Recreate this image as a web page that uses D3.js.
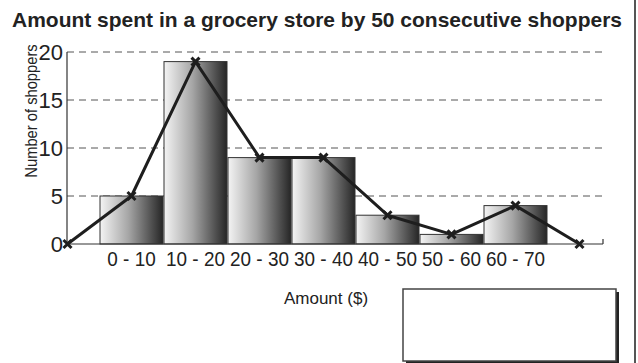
<!DOCTYPE html>
<html>
<head>
<meta charset="utf-8">
<script src="https://cdn.jsdelivr.net/npm/d3@7"></script>
<style>
  body { margin: 0; background: #fff; }
  text { font-family: "Liberation Sans", Arial, sans-serif; fill: #222; }
</style>
</head>
<body>
<div id="chart"></div>
<script>
// data
var categories = ["0 - 10", "10 - 20", "20 - 30", "30 - 40", "40 - 50", "50 - 60", "60 - 70"];
var shoppers = [5, 19, 9, 9, 3, 1, 4];
// polygon closes at zero on both ends
var polygonKeys = ["start"].concat(categories, ["end"]);
var polygonValues = [0].concat(shoppers, [0]);
var yTicks = [0, 5, 10, 15, 20];

var W = 638, H = 363;
var svg = d3.select("#chart").append("svg")
  .attr("width", W).attr("height", H);

// squeeze text horizontally to mimic the narrow typeface
function condense(sel, k) {
  sel.each(function() {
    var len = this.getComputedTextLength();
    d3.select(this).attr("textLength", len * k).attr("lengthAdjust", "spacingAndGlyphs");
  });
}

var defs = svg.append("defs");
var grad = defs.append("linearGradient").attr("id", "barGrad")
  .attr("x1", "0%").attr("x2", "100%").attr("y1", "0%").attr("y2", "0%");
grad.append("stop").attr("offset", "0%").attr("stop-color", "#f4f4f4");
grad.append("stop").attr("offset", "45%").attr("stop-color", "#a6a6a6");
grad.append("stop").attr("offset", "100%").attr("stop-color", "#262626");

// title
svg.append("text")
  .attr("x", 12).attr("y", 27)
  .attr("textLength", 610).attr("lengthAdjust", "spacingAndGlyphs")
  .style("font-size", "21px").style("font-weight", "bold")
  .text("Amount spent in a grocery store by 50 consecutive shoppers");

// scales
var x = d3.scaleBand()
  .domain(polygonKeys)
  .range([35.5, 611.5])
  .padding(0);

var y = d3.scaleLinear()
  .domain([0, 20])
  .range([244, 52]);

var axisLeftX = 67, axisRightX = 603;

// grid lines
svg.append("g").selectAll("line")
  .data(yTicks.filter(function(d) { return d > 0; }))
  .enter().append("line")
  .attr("x1", axisLeftX).attr("x2", axisRightX)
  .attr("y1", function(d) { return y(d); })
  .attr("y2", function(d) { return y(d); })
  .attr("stroke", "#555")
  .attr("stroke-width", 1)
  .attr("stroke-dasharray", "7,5");

// y axis
var yAxis = svg.append("g")
  .attr("transform", "translate(" + axisLeftX + ",0)")
  .call(d3.axisLeft(y).tickValues(yTicks).tickSize(0).tickPadding(4));
yAxis.select(".domain").remove();
yAxis.selectAll("text")
  .style("font-size", "22px")
  .attr("fill", "#222");

svg.append("line")
  .attr("x1", axisLeftX).attr("x2", axisLeftX)
  .attr("y1", y(20)).attr("y2", y(0))
  .attr("stroke", "#333").attr("stroke-width", 1.2);

// bars
svg.append("g").selectAll("rect")
  .data(categories)
  .enter().append("rect")
  .attr("x", function(d) { return x(d) + 0.5; })
  .attr("y", function(d, i) { return y(shoppers[i]); })
  .attr("width", x.bandwidth() - 1)
  .attr("height", function(d, i) { return y(0) - y(shoppers[i]); })
  .attr("fill", "url(#barGrad)")
  .attr("stroke", "#333")
  .attr("stroke-width", 1);

// x axis line and end tick
svg.append("line")
  .attr("x1", axisLeftX).attr("x2", axisRightX)
  .attr("y1", y(0)).attr("y2", y(0))
  .attr("stroke", "#333").attr("stroke-width", 1.2);
svg.append("line")
  .attr("x1", axisRightX).attr("x2", axisRightX)
  .attr("y1", y(0) - 5).attr("y2", y(0))
  .attr("stroke", "#333").attr("stroke-width", 1.2);

// x tick labels
svg.append("g").selectAll("text")
  .data(categories)
  .enter().append("text")
  .attr("x", function(d) { return x(d) + x.bandwidth() / 2; })
  .attr("y", 266)
  .attr("text-anchor", "middle")
  .style("font-size", "21px")
  .text(function(d) { return d; })
  .call(condense, 0.9);

// frequency polygon
var line = d3.line()
  .x(function(d, i) { return x(polygonKeys[i]) + x.bandwidth() / 2; })
  .y(function(d) { return y(d); });

svg.append("path")
  .datum(polygonValues)
  .attr("d", line)
  .attr("fill", "none")
  .attr("stroke", "#1e1e1e")
  .attr("stroke-width", 3)
  .attr("stroke-linejoin", "round");

var m = 4;
var marks = svg.append("g").selectAll("g")
  .data(polygonValues)
  .enter().append("g")
  .attr("transform", function(d, i) {
    return "translate(" + (x(polygonKeys[i]) + x.bandwidth() / 2) + "," + y(d) + ")";
  });
marks.append("path")
  .attr("d", "M" + (-m) + "," + (-m) + "L" + m + "," + m + "M" + (-m) + "," + m + "L" + m + "," + (-m))
  .attr("stroke", "#1e1e1e")
  .attr("stroke-width", 3);

// axis titles
svg.append("text")
  .attr("transform", "translate(37,111) rotate(-90)")
  .attr("text-anchor", "middle")
  .style("font-size", "16px")
  .text("Number of shoppers")
  .call(condense, 0.92);

svg.append("text")
  .attr("x", 326).attr("y", 304)
  .attr("text-anchor", "middle")
  .style("font-size", "17px")
  .text("Amount ($)");

// answer box with shadow
svg.append("rect")
  .attr("x", 406).attr("y", 292).attr("width", 213).attr("height", 80)
  .attr("fill", "#222");
svg.append("rect")
  .attr("x", 403).attr("y", 289).attr("width", 213).attr("height", 72)
  .attr("fill", "#fff").attr("stroke", "#444").attr("stroke-width", 1.5);

// right frame edge
svg.append("line")
  .attr("x1", 635).attr("x2", 635).attr("y1", 0).attr("y2", H)
  .attr("stroke", "#555").attr("stroke-width", 2);
</script>
</body>
</html>
